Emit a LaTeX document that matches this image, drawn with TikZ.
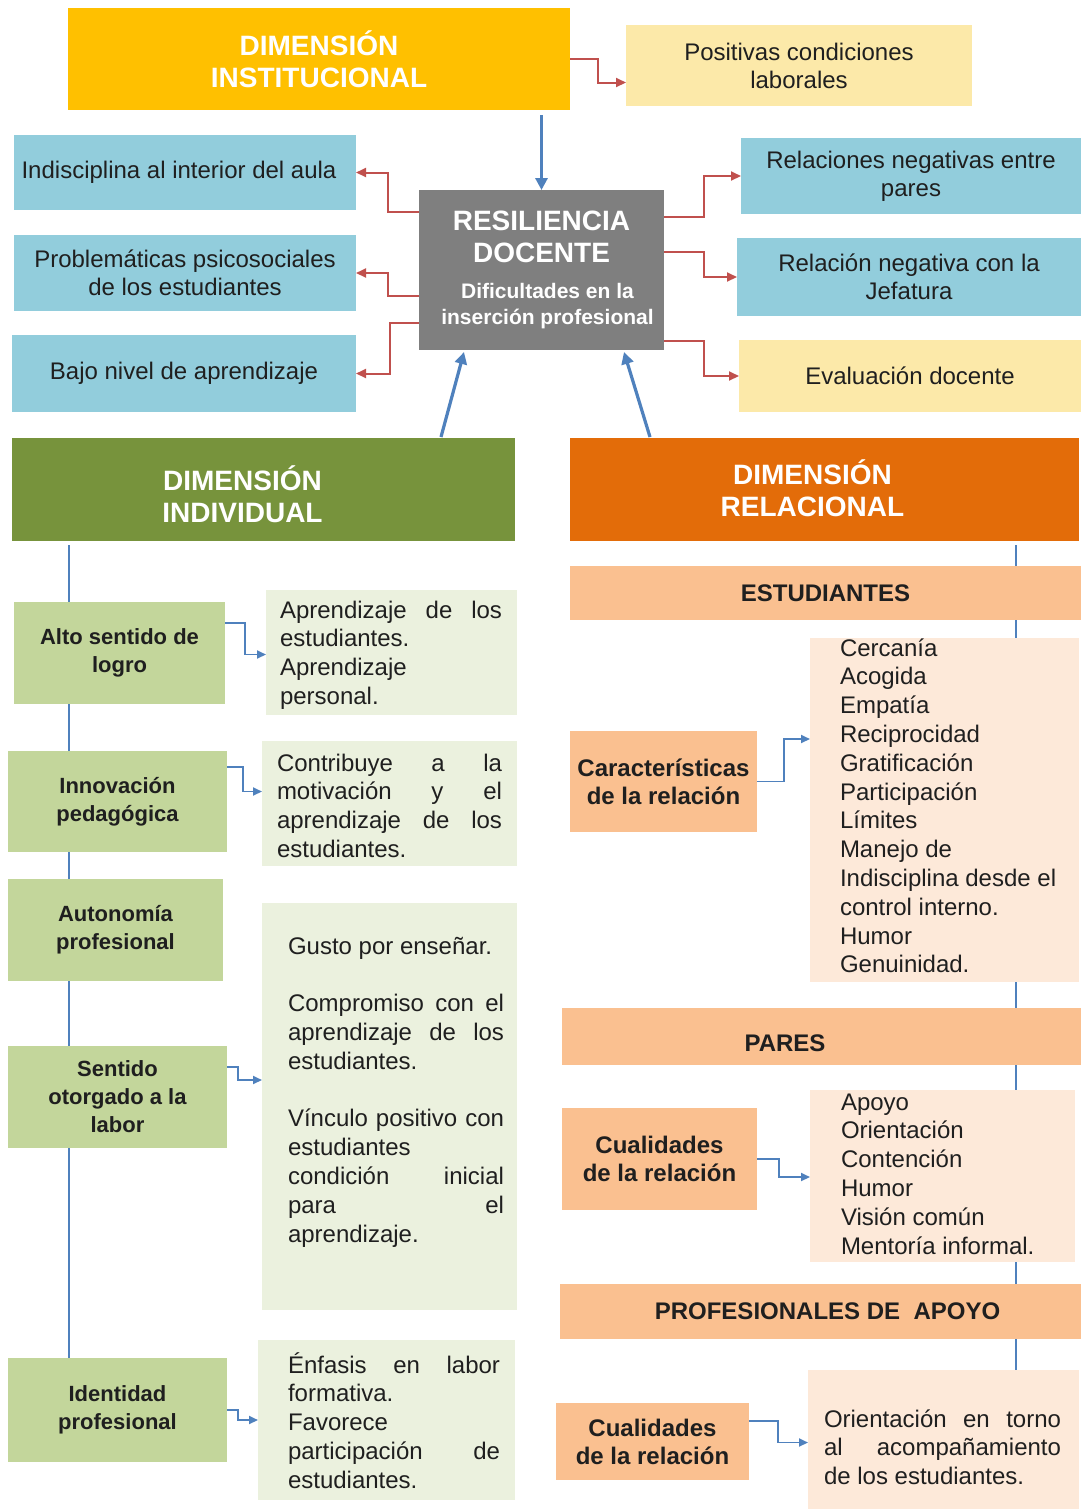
\documentclass[tikz,border=0pt]{standalone}
\usepackage{fontspec}
\setmainfont{Liberation Sans}
\usetikzlibrary{arrows.meta,calc,backgrounds}
\definecolor{instc}{HTML}{FFC000}
\definecolor{paley}{HTML}{FCE9A9}
\definecolor{aqua}{HTML}{92CDDC}
\definecolor{grayc}{HTML}{7F7F7F}
\definecolor{indc}{HTML}{77933C}
\definecolor{relc}{HTML}{E36C09}
\definecolor{gmid}{HTML}{C3D69B}
\definecolor{glight}{HTML}{EBF1DE}
\definecolor{salmon}{HTML}{FAC090}
\definecolor{peach}{HTML}{FDE9D9}
\definecolor{bluec}{HTML}{4F81BD}
\definecolor{redc}{HTML}{C0504D}
\definecolor{txt}{HTML}{1F1F1F}
\newcommand\jpar[2]{\parbox[t]{#1}{\fontsize{12}{14.4}\selectfont #2}}
% box node from pixel corners: [options]{name}{left}{top}{right}{bottom}{text}
\newcommand\bx[7][]{\node[box, #1, minimum width={(#5-#3)*0.5pt}, minimum height={(#6-#4)*0.5pt}] (#2) at ({(#3+#5)/2},{(#4+#6)/2}) {#7};}
\tikzset{
  every node/.style={inner sep=0pt, outer sep=0pt},
  box/.style={rectangle, draw=none},
  hdr/.style={text=white, font=\fontsize{14}{16}\selectfont\bfseries, align=center},
  txtn/.style={text=txt, font=\fontsize{12}{14}\selectfont, align=center},
  glab/.style={fill=gmid, text=txt, font=\fontsize{11}{14}\selectfont\bfseries, align=center},
  slab/.style={fill=salmon, text=txt, font=\fontsize{12}{14}\selectfont\bfseries, align=center},
  para/.style={anchor=base west, text=txt},
  redarr/.style={draw=redc, line width=1pt, -{Triangle[length=5pt,width=4.5pt]}},
  bluebig/.style={draw=bluec, line width=1.6pt, -{Triangle[length=6pt,width=6pt]}},
  bluesm/.style={draw=bluec, line width=0.9pt, -{Triangle[length=4.5pt,width=4pt]}},
  trunk/.style={draw=bluec, line width=1.3pt},
}
\begin{document}
\begin{tikzpicture}[x=0.5pt,y=-0.5pt]
\useasboundingbox (0,0) rectangle (1085,1511);
% top
\bx[fill=instc, hdr]{inst}{68}{8}{570}{110}{DIMENSIÓN\\INSTITUCIONAL}
\bx[fill=paley, txtn]{posit}{626}{25}{972}{106}{Positivas condiciones\\laborales}
\bx[fill=aqua, txtn]{indisc}{14}{135}{356}{210}{Indisciplina al interior del aula\hspace*{6pt}}
\bx[fill=aqua, txtn]{probl}{14}{235}{356}{311}{Problemáticas psicosociales\\de los estudiantes}
\bx[fill=aqua, txtn]{bajo}{12}{335}{356}{412}{Bajo nivel de aprendizaje}
\bx[fill=grayc]{resil}{419}{190}{664}{350}{\parbox{118pt}{\centering\color{white}\bfseries\fontsize{14}{16}\selectfont RESILIENCIA\\DOCENTE\par\vspace{5pt}\fontsize{10.5}{13}\selectfont\hspace*{6pt}Dificultades en la\\\hspace*{6pt}inserción profesional\par}}
\bx[fill=aqua, txtn]{relneg}{741}{138}{1081}{214}{Relaciones negativas entre\\pares}
\bx[fill=aqua, txtn]{jef}{737}{238}{1081}{316}{Relación negativa con la\\Jefatura}
\bx[fill=paley, txtn]{evald}{739}{340}{1081}{412}{Evaluación docente}
% dimensions
\bx[fill=indc]{dimind}{12}{438}{515}{541}{}
\node[hdr] (dimindT) at ($(dimind.center)+(-21,5)$) {DIMENSIÓN\\INDIVIDUAL};
\bx[fill=relc]{dimrel}{570}{438}{1079}{541}{}
\node[hdr] (dimrelT) at ($(dimrel.center)+(-12,-1)$) {DIMENSIÓN\\RELACIONAL};
% left column
\bx[glab]{alto}{14}{602}{225}{704}{Alto sentido de\\logro}
\bx[glab]{innov}{8}{751}{227}{852}{Innovación\\pedagógica}
\bx[glab]{auton}{8}{879}{223}{981}{Autonomía\\profesional}
\bx[glab]{sent}{8}{1046}{227}{1148}{Sentido\\otorgado a la\\labor}
\bx[glab]{ident}{8}{1358}{227}{1462}{Identidad\\profesional}
\bx[fill=glight]{aprend}{266}{590}{517}{715}{}
\bx[fill=glight]{contrib}{262}{741}{517}{866}{}
\bx[fill=glight]{gusto}{262}{903}{517}{1310}{}
\bx[fill=glight]{enfas}{258}{1340}{515}{1500}{}
\node[para] (aprendT) at (280,618) {\jpar{111pt}{Aprendizaje de los\linebreak estudiantes.\\Aprendizaje\\personal.}};
\node[para] (contribT) at (277,771) {\jpar{112.5pt}{Contribuye a la\linebreak motivación y el\linebreak aprendizaje de los\linebreak estudiantes.}};
\node[para] (gustoT) at (288,954) {\jpar{108pt}{Gusto por enseñar.\\[14.4pt]Compromiso con el\linebreak aprendizaje de los\linebreak estudiantes.\\[14.4pt]Vínculo positivo con\linebreak estudiantes\\condición inicial\linebreak para el\linebreak aprendizaje.}};
\node[para] (enfasT) at (288,1373) {\jpar{106pt}{Énfasis en labor\linebreak formativa.\\Favorece\\participación de\linebreak estudiantes.}};
% right column
\bx[slab]{estud}{570}{566}{1081}{620}{ESTUDIANTES}
\bx[fill=peach]{cerc}{810}{638}{1079}{982}{}
\node[para] (cercT) at (840,656) {\jpar{125pt}{Cercanía\\Acogida\\Empatía\\Reciprocidad\\Gratificación\\Participación\\Límites\\Manejo de\\Indisciplina desde el\\control interno.\\Humor\\Genuinidad.}};
\bx[slab]{carac}{570}{731}{757}{832}{Características\\de la relación}
\bx[fill=salmon]{pares}{562}{1008}{1081}{1065}{}
\node[text=txt, font=\fontsize{12}{14}\selectfont\bfseries] (paresT) at (785,1043) {PARES};
\bx[fill=peach]{apoyo}{810}{1090}{1075}{1262}{}
\node[para] (apoyoT) at (841,1110) {\jpar{120pt}{Apoyo\\Orientación\\Contención\\Humor\\Visión común\\Mentoría informal.}};
\bx[slab]{cual1}{562}{1108}{757}{1210}{Cualidades\\de la relación}
\bx[slab]{prof}{560}{1284}{1081}{1339}{\hspace*{7pt}PROFESIONALES DE~~APOYO}
\bx[fill=peach]{orient}{808}{1370}{1079}{1509}{}
\node[para] (orientT) at (824,1427) {\jpar{118.5pt}{Orientación en torno\linebreak al acompañamiento\linebreak de los estudiantes.}};
\bx[slab]{cual2}{556}{1403}{749}{1480}{Cualidades\\de la relación}
% trunk lines behind boxes
\begin{scope}[on background layer]
\fill[white] (0,0) rectangle (1085,1511);
\draw[trunk] ($(dimind.south west)+(57,4)$) -- ($(ident.north west)+(61,0)$);
\draw[trunk] ($(dimrel.south west)+(446,4)$) -- ($(orient.north west)+(208,0)$);
\end{scope}
% connectors top
\draw[redarr] (inst.east) -- ++(28,0) |- ($(posit.west)+(0,17)$);
\draw[bluebig, shorten <=2.5pt] (resil.north |- inst.south) -- (resil.north);
\draw[redarr] ($(resil.north west)+(0,22)$) -- ++(-31,0) |- (indisc.east);
\draw[redarr] ($(resil.north west)+(0,106)$) -- ++(-31,0) |- (probl.east);
\draw[redarr] ($(resil.north west)+(0,133)$) -- ++(-29,0) |- (bajo.east);
\draw[redarr] ($(resil.north east)+(0,27)$) -- ++(40,0) |- (relneg.west);
\draw[redarr] ($(resil.north east)+(0,62)$) -- ++(40,0) |- (jef.west);
\draw[redarr] ($(resil.north east)+(0,151)$) -- ++(40,0) |- (evald.west);
\draw[bluebig] ($(dimind.north west)+(429,-1)$) -- ($(resil.south west)+(45,2)$);
\draw[bluebig] ($(dimrel.north west)+(80,-1)$) -- ($(resil.south east)+(-40,2)$);
% connectors left
\draw[bluesm] ($(alto.north east)+(0,21)$) -- ++(20,0) |- ($(aprend.west)+(0,2)$);
\draw[bluesm] ($(innov.north east)+(0,16)$) -- ++(16,0) |- ($(contrib.west)+(0,-12)$);
\draw[bluesm] ($(sent.north east)+(0,21)$) -- ++(11,0) |- ($(gusto.north west)+(0,177)$);
\draw[bluesm] ($(ident.north east)+(0,52)$) -- ++(11,0) |- (enfas.west);
% connectors right
\draw[bluesm] (carac.east) -- ++(27,0) |- ($(cerc.north west)+(0,101)$);
\draw[bluesm] (cual1.east) -- ++(22,0) |- ($(apoyo.north west)+(0,87)$);
\draw[bluesm] ($(cual2.north east)+(0,18)$) -- ++(29,0) |- ($(orient.west)+(0,3)$);
\end{tikzpicture}
\end{document}
